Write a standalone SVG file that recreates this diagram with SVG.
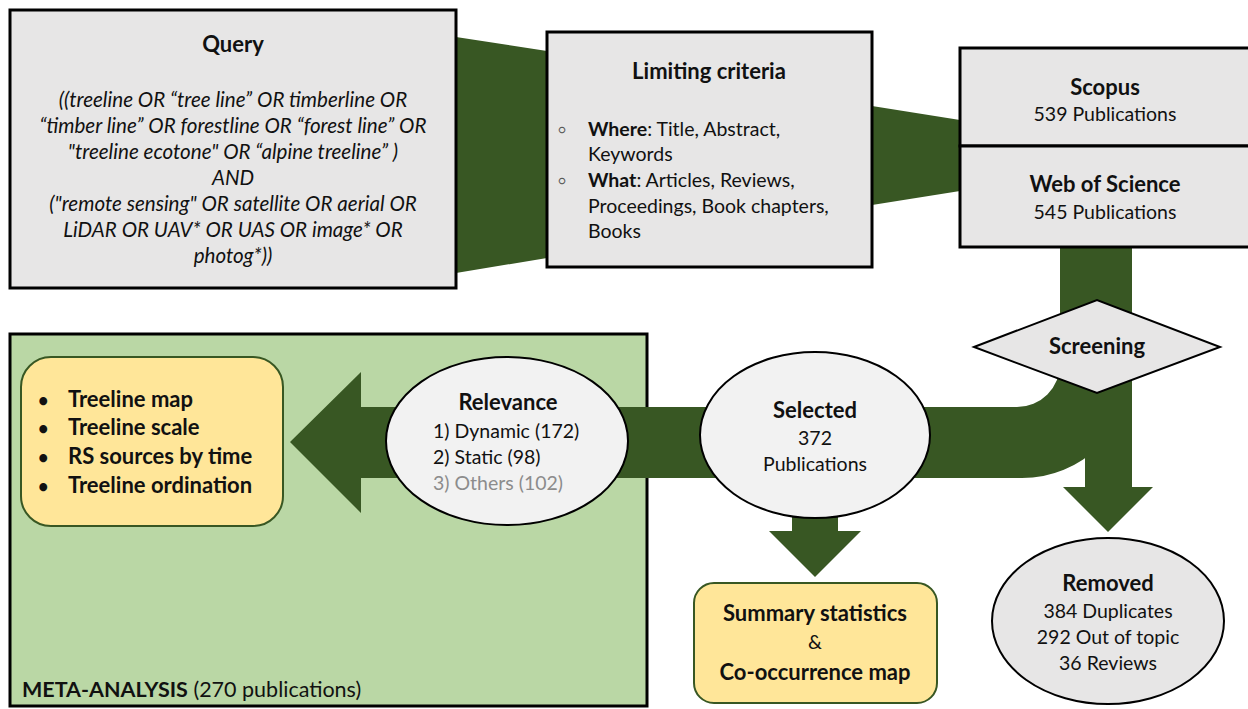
<svg xmlns="http://www.w3.org/2000/svg" width="1248" height="709" viewBox="0 0 1248 709">
<style>
text{font-family:Lato,"Liberation Sans",sans-serif;fill:#111}
.t{font-weight:bold;font-size:22px}
.b{font-size:19.5px}
.i{font-style:italic;font-size:20.6px}
.c{text-anchor:middle}
.box{fill:#e7e6e6;stroke:#000;stroke-width:3}
.ell{fill:#f2f2f2;stroke:#000;stroke-width:2}
.yel{fill:#ffe699;stroke:#385723;stroke-width:2}
.g{fill:#385723}
</style>
<rect width="1248" height="709" fill="#fff"/>
<g id="meta">
<rect x="10" y="334" width="637" height="372" fill="#bad7a5" stroke="#000" stroke-width="3"/>
<text x="22" y="697" class="b" style="font-size:21.5px"><tspan font-weight="bold">META-ANALYSIS</tspan> (270 publications)</text>
</g>
<g id="connectors">
<polygon class="g" points="456,37 547,51 547,258 456,273"/>
<polygon class="g" points="872,106 960,120 960,191 872,205"/>
<path class="g" d="M1060 247 L1132 247 L1132 369 A110 110 0 0 1 1022 478 L361 478 L361 513 L290 442 L361 372 L361 407 L1017 407 A43 43 0 0 0 1060 364 Z"/>
<polygon class="g" points="1085,360 1132,360 1132,487 1153,487 1108,532 1063,487 1085,487"/>
<polygon class="g" points="792,500 838,500 838,531 861,531 815,577 769,531 792,531"/>
</g>
<g id="query">
<rect class="box" x="10" y="10" width="446" height="278"/>
<text x="233" y="52" class="t c">Query</text>
<g class="i c">
<text x="233" y="107">((treeline OR “tree line” OR timberline OR</text>
<text x="233" y="133">“timber line” OR forestline OR “forest line” OR</text>
<text x="233" y="159">"treeline ecotone" OR “alpine treeline” )</text>
<text x="233" y="185">AND</text>
<text x="233" y="211">("remote sensing" OR satellite OR aerial OR</text>
<text x="233" y="237">LiDAR OR UAV* OR UAS OR image* OR</text>
<text x="233" y="263">photog*))</text>
</g>
</g>
<g id="limiting">
<rect class="box" x="547" y="32" width="325" height="235"/>
<text x="709" y="79" class="t c">Limiting criteria</text>
<g class="b">
<text x="558" y="134" style="font-size:12px;fill:#555">○</text>
<text x="588" y="136"><tspan font-weight="bold">Where</tspan>: Title, Abstract,</text>
<text x="588" y="161">Keywords</text>
<text x="558" y="185" style="font-size:12px;fill:#555">○</text>
<text x="588" y="187"><tspan font-weight="bold">What</tspan>: Articles, Reviews,</text>
<text x="588" y="213">Proceedings, Book chapters,</text>
<text x="588" y="238">Books</text>
</g>
</g>
<g id="scopus">
<rect class="box" x="960" y="48" width="292" height="98"/>
<text x="1105" y="95" class="t c">Scopus</text>
<text x="1105" y="121" class="b c">539 Publications</text>
</g>
<g id="wos">
<rect class="box" x="960" y="146" width="292" height="101"/>
<text x="1105" y="192" class="t c">Web of Science</text>
<text x="1105" y="219" class="b c">545 Publications</text>
</g>
<g id="screening">
<polygon points="974,347 1097,300 1220,347 1097,393" fill="#e7e6e6" stroke="#000" stroke-width="2"/>
<text x="1097" y="354" class="t c">Screening</text>
</g>
<g id="selected">
<ellipse class="ell" cx="815" cy="435" rx="115" ry="83"/>
<text x="815" y="418" class="t c">Selected</text>
<text x="815" y="445" class="b c">372</text>
<text x="815" y="471" class="b c">Publications</text>
</g>
<g id="relevance">
<ellipse class="ell" cx="507" cy="441" rx="121" ry="84"/>
<text x="508" y="410" class="t c">Relevance</text>
<text x="433" y="438" class="b">1) Dynamic (172)</text>
<text x="433" y="464" class="b">2) Static (98)</text>
<text x="433" y="490" class="b" style="fill:#8c8c8c">3) Others (102)</text>
</g>
<g id="outputs">
<rect class="yel" x="21" y="357" width="262" height="169" rx="30"/>
<g class="t">
<text x="38" y="407" style="font-size:18px">•</text><text x="68" y="407">Treeline map</text>
<text x="38" y="435" style="font-size:18px">•</text><text x="68" y="435">Treeline scale</text>
<text x="38" y="464" style="font-size:18px">•</text><text x="68" y="464">RS sources by time</text>
<text x="38" y="493" style="font-size:18px">•</text><text x="68" y="493">Treeline ordination</text>
</g>
</g>
<g id="summary">
<rect class="yel" x="694" y="583" width="243" height="120" rx="20"/>
<text x="815" y="621" class="t c">Summary statistics</text>
<text x="815" y="649" class="b c">&amp;</text>
<text x="815" y="680" class="t c">Co-occurrence map</text>
</g>
<g id="removed">
<ellipse cx="1108" cy="621" rx="116" ry="83" fill="#e7e6e6" stroke="#000" stroke-width="2"/>
<text x="1108" y="591" class="t c">Removed</text>
<text x="1108" y="618" class="b c">384 Duplicates</text>
<text x="1108" y="644" class="b c">292 Out of topic</text>
<text x="1108" y="670" class="b c">36 Reviews</text>
</g>
</svg>
